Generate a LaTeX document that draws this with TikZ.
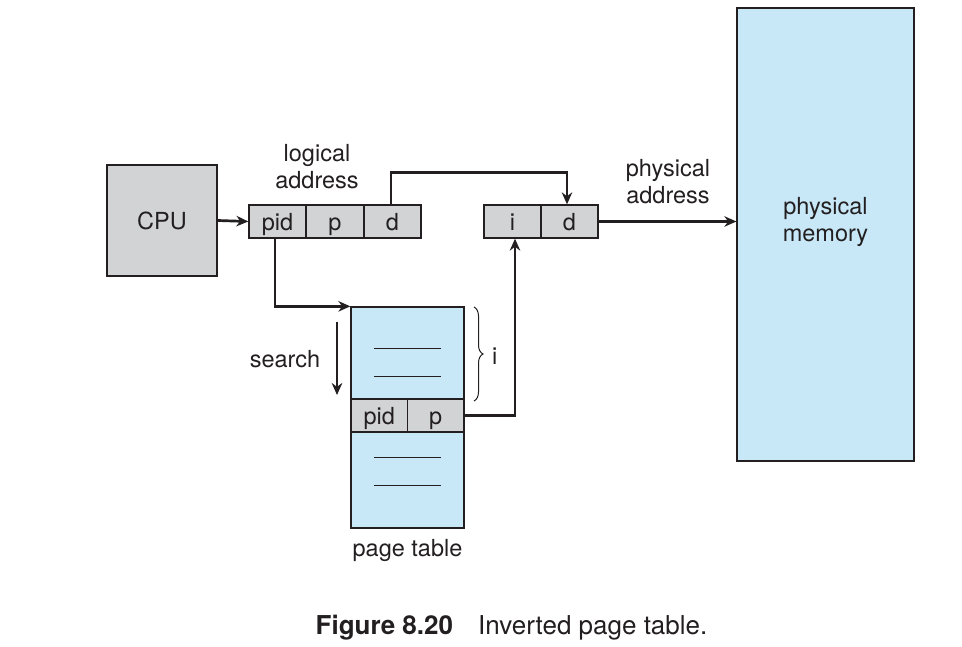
\documentclass[tikz,border=0pt]{standalone}
\usepackage{fontspec}
\setmainfont{TeX Gyre Heros}
\usetikzlibrary{arrows.meta,decorations.pathreplacing}
\definecolor{boxgray}{HTML}{D1D3D4}
\definecolor{memblue}{HTML}{C8E8F8}
\definecolor{ink}{HTML}{231F20}
\begin{document}
\begin{tikzpicture}[x=1pt,y=-1pt,
  every node/.style={font=\fontsize{23.5}{27}\selectfont, text=ink},
  cell/.style={draw=ink, line width=1.3pt, fill=boxgray, inner sep=0pt, minimum height=33pt, text height=20pt, text depth=1.6pt},
  bigbox/.style={draw=ink, line width=1.3pt, inner sep=0pt},
  conn/.style={draw=ink, line width=2.7pt, line cap=butt},
  arr/.style={conn, -{Stealth[length=12pt,width=10.5pt]}},
  entry/.style={draw=ink, line width=1pt},
  lbl/.style={align=center, inner sep=0pt}]
\useasboundingbox (0,0) rectangle (962,647);
% physical memory
\node[bigbox, fill=memblue, minimum width=177pt, minimum height=453pt] (mem) at (825.5,234.5) {};
\node[lbl] (memlbl) at (825.5,222) {physical\\memory};
% CPU
\node[bigbox, fill=boxgray, minimum width=110pt, minimum height=111pt] (cpu) at (162,220.5) {CPU};
% logical address
\node[cell, minimum width=57pt] (pid) at (277.5,221.5) {pid};
\node[cell, minimum width=58pt] (p) at (335,221.5) {p};
\node[cell, minimum width=57pt] (d) at (392.5,221.5) {d};
\node[lbl] (loglbl) at (317,167) {logical\\address};
% physical address
\node[cell, minimum width=57pt] (i) at (512.5,221.5) {i};
\node[cell, minimum width=57pt] (d2) at (569.5,221.5) {d};
\node[lbl] (phylbl) at (668,182) {physical\\address};
% page table
\node[bigbox, fill=memblue, minimum width=113pt, minimum height=221pt] (tab) at (407.5,417.5) {};
\node[cell, minimum width=56.5pt] (tpid) at (379.25,415.5) {pid};
\node[cell, minimum width=56.5pt] (tp) at (435.75,415.5) {p};
\draw[entry] (374,348) -- (441,348);
\draw[entry] (374,376) -- (441,376);
\draw[entry] (374,457) -- (441,457);
\draw[entry] (374,485) -- (441,485);
\node[lbl] (tablbl) at (407.5,550) {page table};
% search
\node[lbl] (search) at (285,359) {search};
\coordinate (s1) at (337,322);
\coordinate (s2) at (337,395);
\draw[arr] (s1) -- (s2);
% brace
\coordinate (b1) at (474,307);
\coordinate (b2) at (474,401);
\draw[ink, line width=1pt, decorate, decoration={brace, amplitude=9pt, aspect=0.5}] (b1) -- (b2);
\node[lbl, anchor=west] (ilbl) at (492,356) {i};
% connectors
\draw[arr] (cpu.east) -- (pid.west);
\draw[arr] ([xshift=-1.5pt]d.north) |- ++(0,-32) -| ([xshift=-2.5pt]d2.north);
\draw[arr] ([xshift=-2.5pt]pid.south) |- (tab.north west);
\draw[arr] (tp.east) -| ([xshift=2.5pt]i.south);
\draw[arr] (d2.east) -- (mem.west |- d2.east);
% caption
\node[lbl, font=\fontsize{26}{30}\selectfont] (cap) at (511.5,628) {\textbf{Figure 8.20}\hspace{25pt}Inverted page table.};
\end{tikzpicture}
\end{document}
